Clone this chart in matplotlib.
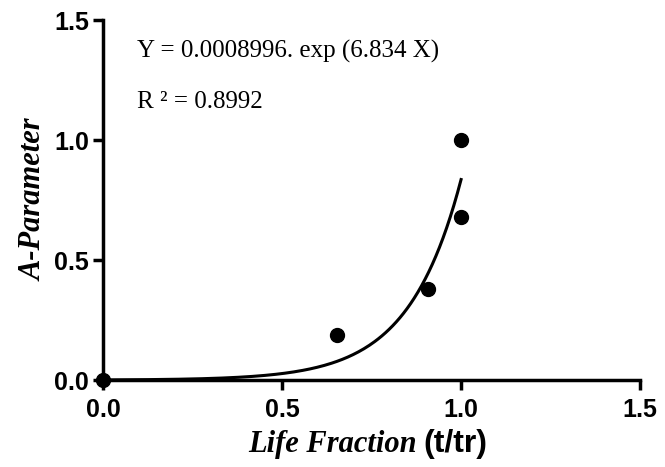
import numpy as np
import matplotlib

matplotlib.use("Agg")
import matplotlib.pyplot as plt

# measured points (life fraction, A-parameter)
life_fraction = [0.0, 0.654, 0.908, 1.0, 1.0]
a_parameter = [0.0, 0.19, 0.38, 0.68, 1.0]

# fitted model Y = a * exp(b X)
fit_a = 0.0008996
fit_b = 6.834
r_squared = 0.8992

x_ticks = [0.0, 0.5, 1.0, 1.5]
y_ticks = [0.0, 0.5, 1.0, 1.5]

fig = plt.figure(figsize=(6.65, 4.67), dpi=100)
ax = fig.add_axes([0.155, 0.186, 0.8075, 0.771])

xs = np.linspace(0.0, 1.0, 200)
ax.plot(xs, fit_a * np.exp(fit_b * xs), color="black", lw=2.2, zorder=2)
ax.plot(life_fraction, a_parameter, "o", color="black", ms=10, clip_on=False, zorder=3)

ax.set_xlim(0.0, 1.5)
ax.set_ylim(0.0, 1.5)
ax.set_xticks(x_ticks)
ax.set_yticks(y_ticks)
tick_font = dict(fontfamily="Liberation Sans", fontweight="bold", fontsize=18)
ax.set_xticklabels([f"{t:.1f}" for t in x_ticks], **tick_font)
ax.set_yticklabels([f"{t:.1f}" for t in y_ticks], **tick_font)

for side in ("top", "right"):
    ax.spines[side].set_visible(False)
for side in ("left", "bottom"):
    ax.spines[side].set_linewidth(2.5)
ax.tick_params(width=2.5, length=7, direction="out")
ax.tick_params(axis="x", pad=6)
ax.tick_params(axis="y", pad=3)

ax.set_ylabel("A-Parameter", fontfamily="Liberation Serif", fontstyle="italic", fontweight="bold", fontsize=22, labelpad=4)
fig.text(0.373, 0.032, "Life Fraction", fontfamily="Liberation Serif", fontstyle="italic", fontweight="bold", fontsize=22)
fig.text(0.636, 0.032, "(t/tr)", fontfamily="Liberation Sans", fontweight="bold", fontsize=23)

serif = dict(fontfamily="Liberation Serif", fontsize=18, va="baseline")
ax.text(0.095, 1.342, f"Y = {fit_a:.7f}. exp ({fit_b} X)", **serif)
ax.text(0.095, 1.133, f"R ² = {r_squared}", **serif)

fig.savefig("out.png")
